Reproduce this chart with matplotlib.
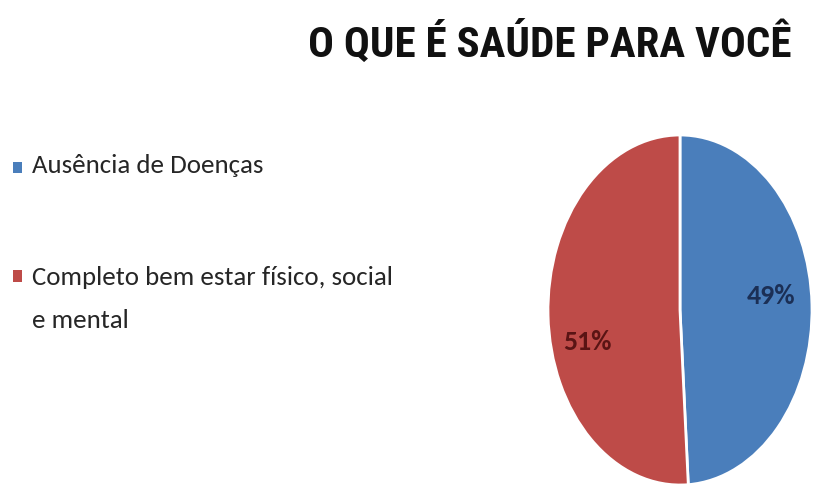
import matplotlib
matplotlib.use("Agg")
import matplotlib.pyplot as plt
from matplotlib import font_manager as fm
from matplotlib.patches import Rectangle

# Survey answers: "What is health for you?"
categories = ["Ausência de Doenças", "Completo bem estar físico, social\ne mental"]
shares = [49, 51]
colors = ["#4A7EBB", "#BE4B48"]
label_colors = ["#1B2F55", "#5A1414"]
title = "O QUE É SAÚDE PARA VOCÊ"

available = {f.name for f in fm.fontManager.ttflist}
def pick(*names):
    for n in names:
        if n in available:
            return n
    return "DejaVu Sans"

title_font = pick("Liberation Sans Narrow", "Roboto Condensed", "PT Sans Narrow", "Archivo Narrow")
body_font = pick("Carlito", "PT Sans Narrow", "Lato")

W, H = 837, 488
fig = plt.figure(figsize=(W / 100, H / 100), dpi=100)
fig.patch.set_facecolor("white")

# Pie drawn as a tall ellipse: axes box sized to the ellipse in pixels
px_left, px_top, px_w, px_h = 548, 135, 264, 350
ax = fig.add_axes([px_left / W, 1 - (px_top + px_h) / H, px_w / W, px_h / H])
wedges, texts, autotexts = ax.pie(
    shares,
    colors=colors,
    startangle=90,
    counterclock=False,
    autopct=lambda p: f"{p:.0f}%",
    pctdistance=0.70,
    wedgeprops=dict(edgecolor="white", linewidth=2),
    textprops=dict(fontsize=20, fontweight="bold", family=body_font),
    radius=1.0,
)
for t, c in zip(autotexts, label_colors):
    t.set_color(c)
# nudge labels to their drawn spots
x, y = autotexts[0].get_position()
autotexts[0].set_position((x - 0.01, y + 0.06))
x, y = autotexts[1].get_position()
autotexts[1].set_position((x, y - 0.16))
ax.set_aspect("auto")
ax.set_xlim(-1.0, 1.0)
ax.set_ylim(-1.0, 1.0)
ax.axis("off")

# Title
fig.text(550 / W, 1 - 44 / H, title, ha="center", va="center",
         fontsize=31, fontweight="bold", family=title_font, color="#111111")

# Legend: colour square + label lines placed on their baselines
text_color = "#262626"
legend_squares = [(162, 11), (270, 12)]          # top pixel, height
legend_baselines = [[173], [285, 328]]
for cat, col, (sq_top, sq_h), bases in zip(categories, colors,
                                            legend_squares, legend_baselines):
    fig.patches.append(Rectangle((13 / W, 1 - (sq_top + sq_h) / H), 9 / W, sq_h / H,
                                 transform=fig.transFigure, facecolor=col,
                                 edgecolor="none"))
    for line, base in zip(cat.split("\n"), bases):
        fig.text(32 / W, 1 - base / H, line, ha="left", va="baseline",
                 fontsize=19.4, family=body_font, color=text_color)

fig.savefig("out.png", dpi=100, facecolor="white")
